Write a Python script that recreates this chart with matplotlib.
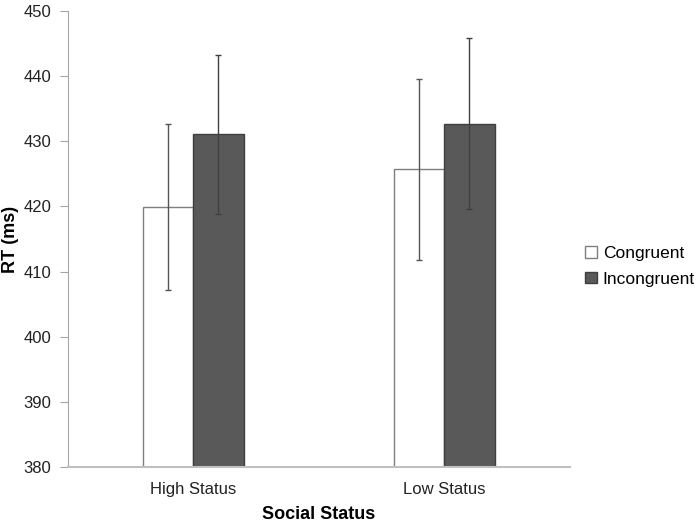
import matplotlib.pyplot as plt
import numpy as np

plt.rcParams['font.family'] = ['Liberation Sans', 'DejaVu Sans']

# data
categories = ['High Status', 'Low Status']
congruent = [419.9, 425.7]
incongruent = [431.1, 432.7]
congruent_err = [12.8, 13.9]
incongruent_err = [12.2, 13.1]

x = np.arange(len(categories))
w = 0.2

fig = plt.figure(figsize=(7, 5.23), dpi=100)
ax = fig.add_axes([0.097, 0.107, 0.717, 0.872])

ax.bar(x - w / 2, np.array(congruent) - 380, w, bottom=380, color='white',
       edgecolor='#7f7f7f', linewidth=1.0, label='Congruent', zorder=2)
ax.bar(x + w / 2, np.array(incongruent) - 380, w, bottom=380, color='#595959',
       edgecolor='#3f3f3f', linewidth=1.0, label='Incongruent', zorder=2)

ax.errorbar(x - w / 2, congruent, yerr=congruent_err, fmt='none',
            ecolor='#555555', elinewidth=1.0, capsize=2.5, capthick=1.0, zorder=3)
ax.errorbar(x + w / 2, incongruent, yerr=incongruent_err, fmt='none',
            ecolor='#404040', elinewidth=1.0, capsize=2.5, capthick=1.0, zorder=3)

ax.set_xlim(-0.5, 1.5)
ax.set_ylim(380, 450)
ax.set_yticks(np.arange(380, 451, 10))
ax.set_xticks(x)
ax.set_xticklabels(categories)

for s in ['top', 'right']:
    ax.spines[s].set_visible(False)
ax.spines['left'].set_color('#a6a6a6')
ax.spines['bottom'].set_color('#c0c0c0')
ax.spines['bottom'].set_linewidth(1.5)
ax.tick_params(axis='y', direction='out', length=6, color='#a6a6a6',
               labelsize=12, labelcolor='#222222', pad=6)
ax.tick_params(axis='x', length=0, labelsize=12, labelcolor='#222222', pad=11)

ax.set_ylabel('RT (ms)', fontsize=13, fontweight='bold', labelpad=3)
ax.set_xlabel('Social Status', fontsize=13, fontweight='bold', labelpad=6)

ax.legend(loc='center left', bbox_to_anchor=(1.0, 0.44), frameon=False,
          fontsize=12.5, handlelength=0.65, handleheight=0.65, handletextpad=0.35,
          labelspacing=0.6)

fig.savefig('out.png', dpi=100)
